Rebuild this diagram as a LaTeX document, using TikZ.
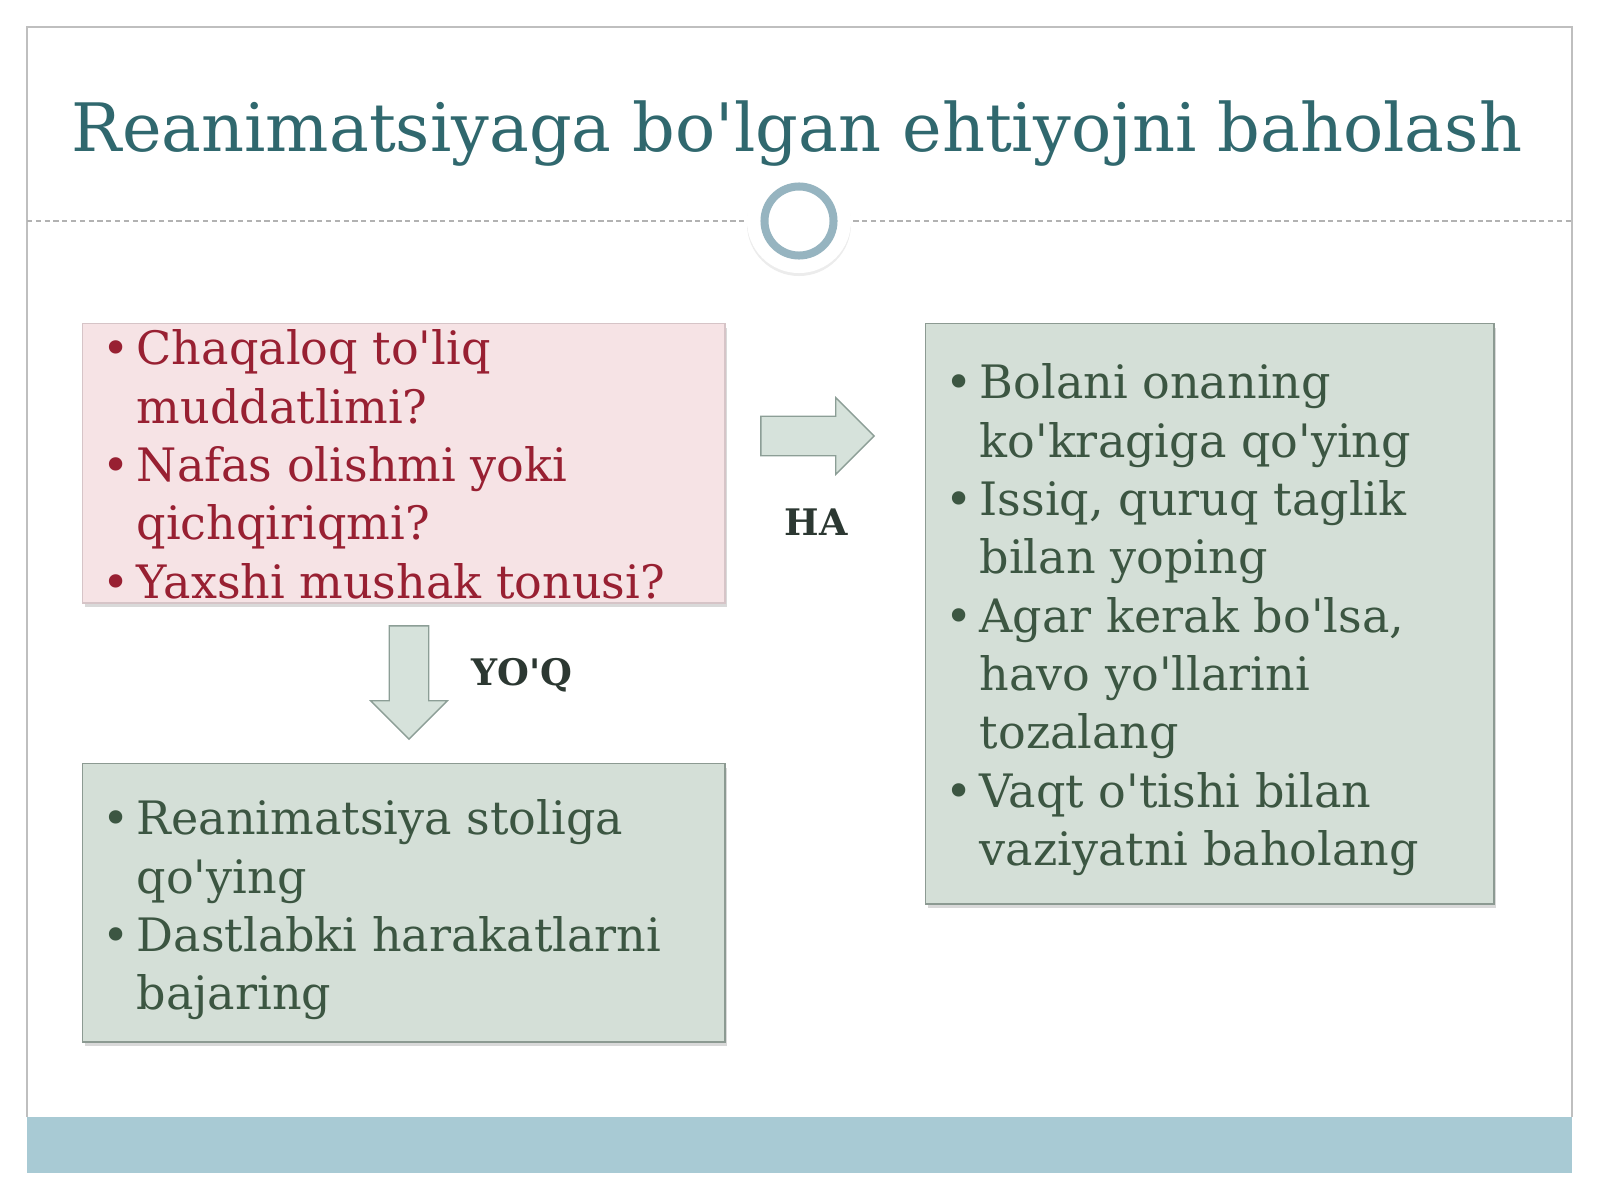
\documentclass[tikz,border=0pt]{standalone}
\usepackage{fontspec}
\setmainfont{DejaVu Serif}[Ligatures=TeXOff]
\usetikzlibrary{positioning, shapes.arrows, shadows}
\definecolor{titleteal}{RGB}{48,104,110}
\definecolor{askred}{RGB}{152,32,50}
\definecolor{askfill}{RGB}{246,227,229}
\definecolor{askline}{RGB}{214,196,199}
\definecolor{doitgreen}{RGB}{60,86,66}
\definecolor{doitfill}{RGB}{212,223,215}
\definecolor{doitline}{RGB}{140,154,146}
\definecolor{arrowfill}{RGB}{214,226,219}
\definecolor{arrowline}{RGB}{140,158,150}
\definecolor{bandblue}{RGB}{168,202,212}
\definecolor{ringblue}{RGB}{150,180,192}
\definecolor{labelgray}{RGB}{44,56,50}
\newcommand{\bitem}[1]{\hangindent=0.34cm\hangafter=1\noindent\makebox[0.34cm][l]{\textbullet}#1\par}
\newcommand{\boxtext}[4]{\parbox[c][#2][t]{#1}{\raggedright\hyphenpenalty=10000\vspace*{#3}#4}}
\tikzset{
x=0.01cm, y=-0.01cm, % one unit is one pixel of the slide
box/.style={rectangle, inner xsep=0.2cm, inner ysep=0pt, font=\fontsize{13.1}{16.6}\selectfont, drop shadow={opacity=0.3, shadow xshift=0.02cm, shadow yshift=-0.04cm}}, % common look of the three boxes
askbox/.style={box, draw=askline, fill=askfill, text=askred}, % the question box
doitbox/.style={box, draw=doitline, fill=doitfill, text=doitgreen}, % the action boxes
flowarrow/.style={single arrow, draw=arrowline, fill=arrowfill, inner sep=0.19cm, single arrow head extend=0.185cm, minimum height=1.13cm}, % block arrows
flowlabel/.style={font=\fontsize{10.4}{12}\selectfont\bfseries, text=labelgray, inner sep=0pt}, % HA / YO'Q
}
\begin{document}
\begin{tikzpicture}
    \useasboundingbox (0,0) rectangle (1600,1200);
    \coordinate (frameTL) at (27,27);
    \coordinate (frameTR) at (1572,27);
    \coordinate (frameBL) at (27,1117);
    \coordinate (frameBR) at (1572,1117);
    \coordinate (bandEnd) at (1572,1173);
    \coordinate (ruleL) at (27,221);
    \coordinate (ruleR) at (1572,221);
    \fill[bandblue] (frameBL) rectangle (bandEnd);
    \draw[gray!50, line width=0.6pt] (frameBL) -- (frameTL) -- (frameTR) -- (frameBR);
    \draw[gray!60, line width=0.5pt, dash pattern=on 1.5pt off 1pt] (ruleL) -- (ruleR);
    \node[anchor=base, text=titleteal, font=\fontsize{19.0}{23}\selectfont] (title) at (797,151) {Reanimatsiyaga bo'lgan ehtiyojni baholash};
    \node[circle, fill=white, minimum size=1.04cm, drop shadow={opacity=0.15, shadow xshift=0cm, shadow yshift=-0.03cm}] (knob) at (799,221) {};
    \node[circle, draw=ringblue, line width=0.08cm, minimum size=0.69cm] (ring) at (knob) {};
    \node[askbox, anchor=north west] (ask) at (82,323) {\boxtext{6.02cm}{2.79cm}{0.06cm}{%
        \bitem{Chaqaloq to'liq\newline muddatlimi?}\bitem{Nafas olishmi yoki\newline qichqiriqmi?}\bitem{Yaxshi mushak tonusi?}}};
    \node[doitbox, anchor=north west] (yesbox) at (925,323) {\boxtext{5.28cm}{5.80cm}{0.40cm}{%
        \bitem{Bolani onaning\newline ko'kragiga qo'ying}\bitem{Issiq, quruq taglik\newline bilan yoping}\bitem{Agar kerak bo'lsa,\newline havo yo'llarini\newline tozalang}\bitem{Vaqt o'tishi bilan\newline vaziyatni baholang}}};
    \node[doitbox, anchor=north west] (nobox) at (82,763) {\boxtext{6.02cm}{2.78cm}{0.36cm}{%
        \bitem{Reanimatsiya stoliga\newline qo'ying}\bitem{Dastlabki harakatlarni\newline bajaring}}};
    \node[flowarrow, anchor=tip] (yesarrow) at (875,436) {};
    \node[flowarrow, shape border rotate=270, anchor=tip] (noarrow) at (409,740) {};
    \node[flowlabel, anchor=base] (yes) at (816,535) {HA};
    \node[flowlabel, anchor=base] (no) at (522,685) {YO'Q};
\end{tikzpicture}
\end{document}
